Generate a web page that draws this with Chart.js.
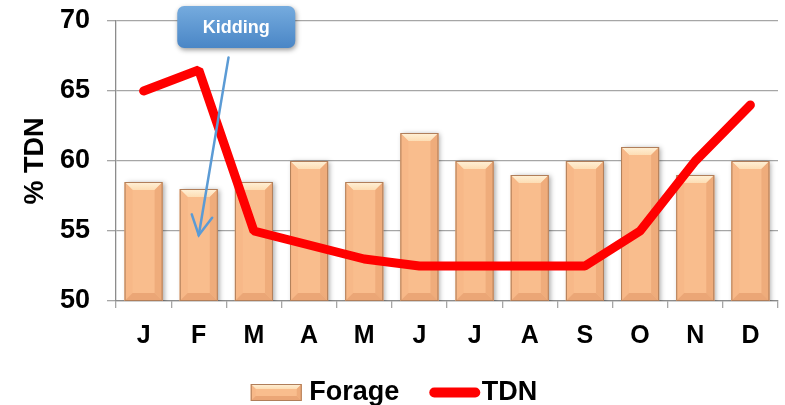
<!DOCTYPE html>
<html><head><meta charset="utf-8">
<script src="https://cdn.jsdelivr.net/npm/chart.js@4"></script>
<style>
html,body{margin:0;padding:0;background:#fff;overflow:hidden;width:785px;height:405px}
#wrap{width:785px;height:405px;overflow:hidden;position:relative}
#wrap canvas{display:block}
</style></head>
<body><div id="wrap"><canvas id="c" width="785" height="416"></canvas></div>
<script>
const months = ['J','F','M','A','M','J','J','A','S','O','N','D'];
const forage = [58.5,58,58.5,60,58.5,62,60,59,60,61,59,60];
const tdn = [65,66.5,55,54,53,52.5,52.5,52.5,52.5,55,60,64];
const yMin = 50, yMax = 70, yStep = 5;
const calloutText = 'Kidding';
// callout anchors in data units: [category index, value]
const arrowTip = [1, 54.7];
const arrowStart = [1.54, 67.4];
const calloutCenter = [1.68, 69.57];

const FONT = "'Liberation Sans', Arial, sans-serif";
const BAR = '#F9BD8D';
const LEG_BOX_W = 51;

function bevel(ctx, l, t, r, b, s) {
  ctx.save();
  ctx.shadowColor = 'transparent';
  let g = ctx.createLinearGradient(0, t, 0, t + s);
  g.addColorStop(0, '#FFF1D8'); g.addColorStop(1, '#FDDDB4');
  ctx.fillStyle = g;
  ctx.beginPath(); ctx.moveTo(l, t); ctx.lineTo(r, t); ctx.lineTo(r - s, t + s); ctx.lineTo(l + s, t + s); ctx.closePath(); ctx.fill();
  ctx.fillStyle = '#F7B888';
  ctx.beginPath(); ctx.moveTo(l, t); ctx.lineTo(l + s, t + s); ctx.lineTo(l + s, b - s); ctx.lineTo(l, b); ctx.closePath(); ctx.fill();
  ctx.fillStyle = '#EFAC7B';
  ctx.beginPath(); ctx.moveTo(r, t); ctx.lineTo(r - s, t + s); ctx.lineTo(r - s, b - s); ctx.lineTo(r, b); ctx.closePath(); ctx.fill();
  ctx.fillStyle = '#EBA676';
  ctx.beginPath(); ctx.moveTo(l, b); ctx.lineTo(l + s, b - s); ctx.lineTo(r - s, b - s); ctx.lineTo(r, b); ctx.closePath(); ctx.fill();
  ctx.strokeStyle = '#B07E5A'; ctx.lineWidth = 1;
  ctx.strokeRect(l + 0.5, t + 0.5, r - l - 1, b - t - 1);
  ctx.restore();
}

const fx = {
  id: 'fx',
  beforeDatasetDraw(chart, args) {
    if (args.meta.type === 'bar') {
      const ctx = chart.ctx;
      ctx.save();
      ctx.shadowColor = 'rgba(0,0,0,0.35)';
      ctx.shadowBlur = 5; ctx.shadowOffsetX = 2; ctx.shadowOffsetY = 1;
    }
  },
  afterDatasetDraw(chart, args) {
    if (args.meta.type === 'bar') {
      const ctx = chart.ctx;
      ctx.restore();
      const bottom = chart.chartArea.bottom;
      args.meta.data.forEach(el => {
        const p = el.getProps(['x', 'y', 'base', 'width'], true);
        bevel(ctx, p.x - p.width / 2, p.y, p.x + p.width / 2, Math.min(p.base, bottom), 8);
      });
    }
  },
  afterDraw(chart) {
    const ctx = chart.ctx;
    const lg = chart.legend;
    if (lg && lg.legendHitBoxes) {
      const bw = lg.options.labels.boxWidth, bh = lg.options.labels.boxHeight;
      lg.legendHitBoxes.forEach((hb, i) => {
        const top = hb.top + (hb.height - bh) / 2;
        ctx.save();
        ctx.fillStyle = '#fff';
        ctx.fillRect(hb.left - 2, top - 2, bw + 4, bh + 4);
        ctx.restore();
        if (i === 0) {
          ctx.save();
          ctx.fillStyle = BAR;
          ctx.fillRect(hb.left, top, LEG_BOX_W, bh);
          ctx.restore();
          bevel(ctx, hb.left, top, hb.left + LEG_BOX_W, top + bh, 5);
        } else {
          ctx.save();
          ctx.strokeStyle = '#FF0000'; ctx.lineWidth = 10; ctx.lineCap = 'round';
          ctx.beginPath(); ctx.moveTo(hb.left + 11, top + bh / 2); ctx.lineTo(hb.left + 52, top + bh / 2); ctx.stroke();
          ctx.restore();
        }
      });
    }
    const xs = chart.scales.x, ys = chart.scales.y;
    const cw = xs.getPixelForValue(1) - xs.getPixelForValue(0);
    const px = v => xs.getPixelForValue(0) + v * cw;
    const tx = px(arrowTip[0]), ty = ys.getPixelForValue(arrowTip[1]);
    const sx = px(arrowStart[0]), sy = ys.getPixelForValue(arrowStart[1]);
    ctx.save();
    ctx.strokeStyle = '#5B9BD5'; ctx.lineWidth = 2.5; ctx.lineCap = 'round';
    ctx.beginPath(); ctx.moveTo(sx, sy); ctx.lineTo(tx, ty); ctx.stroke();
    const ang = Math.atan2(sy - ty, sx - tx);
    const L = 22, da = 28 * Math.PI / 180;
    ctx.beginPath();
    ctx.moveTo(tx + L * Math.cos(ang - da), ty + L * Math.sin(ang - da));
    ctx.lineTo(tx, ty);
    ctx.lineTo(tx + L * Math.cos(ang + da), ty + L * Math.sin(ang + da));
    ctx.stroke();
    ctx.restore();

    const cx = px(calloutCenter[0]), cy = ys.getPixelForValue(calloutCenter[1]);
    const w = 118, h = 42, r = 7;
    const l = cx - w / 2, t = cy - h / 2;
    ctx.save();
    ctx.shadowColor = 'rgba(0,0,0,0.4)'; ctx.shadowBlur = 5; ctx.shadowOffsetX = 1; ctx.shadowOffsetY = 2;
    const g = ctx.createLinearGradient(0, t, 0, t + h);
    g.addColorStop(0, '#75ABDE'); g.addColorStop(1, '#4A86C6');
    ctx.fillStyle = g;
    ctx.beginPath(); ctx.roundRect(l, t, w, h, r); ctx.fill();
    ctx.restore();
    ctx.save();
    ctx.fillStyle = '#fff';
    ctx.font = 'bold 18px ' + FONT;
    ctx.textAlign = 'center'; ctx.textBaseline = 'middle';
    ctx.fillText(calloutText, cx, cy + 1);
    ctx.restore();
  }
};

new Chart(document.getElementById('c'), {
  data: {
    labels: months,
    datasets: [
      { type: 'line', label: 'TDN', data: tdn, borderColor: '#FF0000', backgroundColor: '#FF0000',
        borderWidth: 9, pointRadius: 0, borderCapStyle: 'round', borderJoinStyle: 'bevel', tension: 0, order: 0 },
      { type: 'bar', label: 'Forage', data: forage, backgroundColor: BAR, borderWidth: 0,
        barPercentage: 0.69, categoryPercentage: 1, order: 1 }
    ]
  },
  options: {
    responsive: false, animation: false,
    layout: { padding: { top: 21, right: 7, left: 10, bottom: 0 } },
    plugins: {
      tooltip: { enabled: false },
      legend: {
        position: 'bottom',
        labels: {
          boxWidth: 45, boxHeight: 17, padding: 24, color: '#000',
          font: { family: FONT, size: 27, weight: 'bold' },
          sort: (a, b) => b.datasetIndex - a.datasetIndex,
          generateLabels(chart) {
            const items = Chart.defaults.plugins.legend.labels.generateLabels(chart);
            items.forEach(it => { it.lineWidth = 0; if (it.text === 'Forage') it.fillStyle = BAR; });
            return items;
          }
        }
      }
    },
    scales: {
      x: {
        grid: { drawOnChartArea: false, tickLength: 7, color: '#A6A6A6', lineWidth: 1.3, offset: true },
        border: { color: '#8C8C8C', width: 1.3 },
        ticks: { color: '#000', padding: 13, font: { family: FONT, size: 25, weight: 'bold' } },
        afterFit(s) { s.height -= 9; }
      },
      y: {
        min: yMin, max: yMax,
        ticks: { stepSize: yStep, color: '#000', padding: 17, font: { family: FONT, size: 27, weight: 'bold' } },
        grid: { color: '#A6A6A6', lineWidth: 1.3, tickLength: 9 },
        border: { color: '#8C8C8C', width: 1.3 },
        title: { display: true, text: '% TDN', color: '#000', padding: { top: 9, bottom: 0 },
                 font: { family: FONT, size: 27, weight: 'bold' } },
        afterFit(s) { s.width = 106; s.paddingTop = 0; s.paddingBottom = 0; }
      }
    }
  },
  plugins: [fx]
});
</script>
</body></html>
